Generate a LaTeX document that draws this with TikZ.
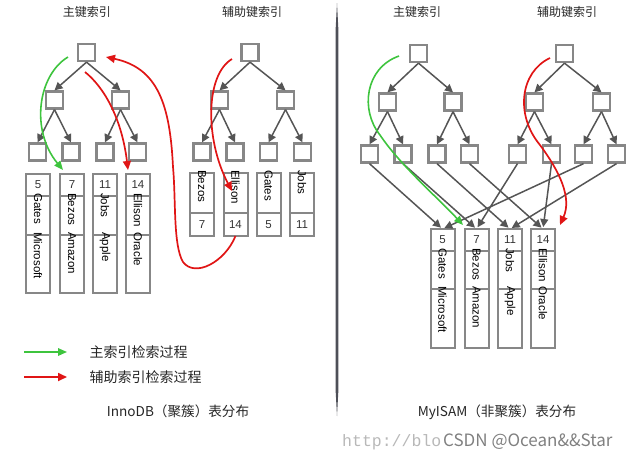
\documentclass[tikz,border=0pt]{standalone}
\usepackage{fontspec}
\setmainfont{Liberation Sans}
\newfontfamily\cjk{Noto Sans CJK SC}
\newfontfamily\wmono{Liberation Mono}
\usetikzlibrary{arrows.meta}
\definecolor{boxgray}{HTML}{878787}
\definecolor{argray}{HTML}{555555}
\definecolor{lgreen}{HTML}{3EC43E}
\definecolor{lred}{HTML}{E01515}
\definecolor{divcol}{HTML}{4E5058}
\newcommand{\cellfnt}{\fontsize{11.5}{12}\selectfont}
\begin{document}
\begin{tikzpicture}[x=1pt,y=-1pt,
  tbox/.style={draw=boxgray, line width=2.5pt, fill=white, minimum size=16.8pt, inner sep=0pt},
  tarrow/.style={draw=argray, line width=1.5pt, -{Triangle[length=8pt,width=8pt]}},
  cell/.style={draw=boxgray, line width=2pt, minimum width=24pt, inner sep=0pt, outer sep=0pt, anchor=north},
  ctext/.style={font=\cellfnt, rotate=-90, anchor=west, inner sep=0pt},
  ntext/.style={font=\cellfnt, inner sep=0pt, text=black!80},
  title/.style={font=\cjk\fontsize{12}{14}\selectfont, text=black!85},
  legtext/.style={font=\cjk\fontsize{14}{16}\selectfont, anchor=west, text=black!85},
  capt/.style={font=\cjk\fontsize{13.6}{15}\selectfont, text=black!85},
  garrow/.style={draw=lgreen, line width=1.6pt, -{Triangle[length=9pt,width=7.5pt]}},
  rarrow/.style={draw=lred, line width=1.7pt, -{Triangle[length=9pt,width=8pt]}},
]
\useasboundingbox (0,0) rectangle (633,461);

% titles
\node[title] (t1) at (87,12) {主键索引};
\node[title] (t2) at (252,12) {辅助键索引};
\node[title] (t3) at (417,12) {主键索引};
\node[title] (t4) at (567,12) {辅助键索引};

% divider
\fill[divcol] (337,3) -- (338.4,30) -- (338.4,390) -- (337,416) -- (335.6,390) -- (335.6,30) -- cycle;

% ---------- left: InnoDB ----------
% primary tree
\node[tbox] (r1) at (86.5,52.5) {};
\node[tbox] (a1) at (54.5,100) {};
\node[tbox] (a2) at (120.5,100) {};
\node[tbox] (l1) at (37.5,152) {};
\node[tbox] (l2) at (71,152) {};
\node[tbox] (l3) at (105,152) {};
\node[tbox] (l4) at (137.5,152) {};
% secondary tree
\node[tbox] (r2) at (250,52.5) {};
\node[tbox] (b1) at (219.5,100) {};
\node[tbox] (b2) at (285.5,100) {};
\node[tbox] (k1) at (202,152) {};
\node[tbox] (k2) at (235,152) {};
\node[tbox] (k3) at (268.5,152) {};
\node[tbox] (k4) at (302.5,152) {};

\foreach \p/\c in {r1/a1,r1/a2,a1/l1,a1/l2,a2/l3,a2/l4,r2/b1,r2/b2,b1/k1,b1/k2,b2/k3,b2/k4}
  \draw[tarrow] (\p.south) -- (\c.north);

% primary table (clustered rows)
\foreach \x/\n/\a/\b/\nm in {38/5/Gates/Microsoft/p1, 72/7/Bezos/Amazon/p2, 105/11/Jobs/Apple/p3, 138/14/Ellison/Oracle/p4}{
  \node[cell, minimum height=22pt] (\nm k) at (\x,174) {};
  \node[cell, minimum height=39pt] (\nm a) at (\x,196) {};
  \node[cell, minimum height=58pt] (\nm b) at (\x,235) {};
  \node[ntext] at (\nm k.center) {\n};
  \node[ctext] at ([yshift=3pt]\nm a.north) {\a};
  \node[ctext] at ([yshift=3pt]\nm b.north) {\b};
}
% secondary table
\foreach \x/\n/\a/\nm in {202/7/Bezos/s1, 235.5/14/Ellison/s2, 268.5/5/Gates/s3, 302/11/Jobs/s4}{
  \node[cell, minimum height=40pt] (\nm a) at (\x,173) {};
  \node[cell, minimum height=23pt] (\nm k) at (\x,213) {};
  \node[ntext] at (\nm k.center) {\n};
  \node[ctext] at ([yshift=3pt]\nm a.north) {\a};
}

% left search paths
\coordinate (g0) at (68,57);
\coordinate (g1) at (63,170);
\draw[garrow] (g0) .. controls (38,75) and (30,130) .. (g1);
\coordinate (ra0) at (85,72);
\coordinate (ra1) at (128,170);
\draw[rarrow] (ra0) .. controls (105,88) and (122,120) .. (ra1);
\coordinate (rc0) at (232,59);
\coordinate (rc1) at (232,191);
\draw[rarrow] (rc0) .. controls (205,75) and (205,140) .. (rc1);
\coordinate (rb1) at (106,57);
\draw[rarrow] (s2k.south) .. controls (225,262) and (195,278) .. (183,262)
   .. controls (173,245) and (176,200) .. (173,167)
   .. controls (170,105) and (158,68) .. (rb1);

% legend
\coordinate (lg0) at (24,352);
\coordinate (lg1) at (67,352);
\coordinate (lr0) at (24,377);
\coordinate (lr1) at (67,377);
\draw[garrow] (lg0) -- (lg1);
\draw[rarrow] (lr0) -- (lr1);
\node[legtext] (leg1) at (86,352) {主索引检索过程};
\node[legtext] (leg2) at (86,377) {辅助索引检索过程};

\node[capt] (cap1) at (178,411) {InnoDB（聚簇）表分布};

% ---------- right: MyISAM ----------
\node[tbox] (R1) at (418.5,53.5) {};
\node[tbox] (A1) at (387.5,102) {};
\node[tbox] (A2) at (453,102) {};
\node[tbox] (L1) at (369.5,154) {};
\node[tbox] (L2) at (403,154) {};
\node[tbox] (L3) at (437,154) {};
\node[tbox] (L4) at (469.5,154) {};
\node[tbox] (R2) at (564.5,53.5) {};
\node[tbox] (B1) at (534.5,102) {};
\node[tbox] (B2) at (601.5,102) {};
\node[tbox] (K1) at (517.5,154) {};
\node[tbox] (K2) at (551.5,154) {};
\node[tbox] (K3) at (583.5,154) {};
\node[tbox] (K4) at (616.5,154) {};
\foreach \p/\c in {R1/A1,R1/A2,A1/L1,A1/L2,A2/L3,A2/L4,R2/B1,R2/B2,B1/K1,B1/K2,B2/K3,B2/K4}
  \draw[tarrow] (\p.south) -- (\c.north);

\foreach \x/\n/\a/\b/\nm in {442.5/5/Gates/Microsoft/q1, 476.5/7/Bezos/Amazon/q2, 510/11/Jobs/Apple/q3, 543/14/Ellison/Oracle/q4}{
  \node[cell, minimum height=22pt] (\nm k) at (\x,229) {};
  \node[cell, minimum height=38pt] (\nm a) at (\x,251) {};
  \node[cell, minimum height=59pt] (\nm b) at (\x,289) {};
  \node[ntext] at (\nm k.center) {\n};
  \node[ctext] at ([yshift=3pt]\nm a.north) {\a};
  \node[ctext] at ([yshift=3pt]\nm b.north) {\b};
}

\foreach \p/\c in {L1/q1k,L2/q2k,L3/q3k,L4/q4k,K1/q2k,K2/q4k,K3/q1k,K4/q3k}
  \draw[tarrow, shorten >=2pt] (\p.south) -- (\c.north);

\coordinate (G0) at (399,56);
\coordinate (G1) at (463,225);
\draw[garrow] (G0) .. controls (365,68) and (360,110) .. (380,135)
   .. controls (400,165) and (440,200) .. (G1);
\coordinate (Q0) at (550,58);
\coordinate (Q1) at (560,225);
\draw[rarrow] (Q0) .. controls (520,72) and (515,115) .. (540,145)
   .. controls (560,172) and (572,198) .. (Q1);

\node[capt] (cap2) at (497,412) {MyISAM（非聚簇）表分布};

% watermark
\node[anchor=west, font=\wmono\fontsize{16.5}{17}\selectfont, text=black!28, inner sep=0pt] (wm1) at (342,442) {http://blo};
\node[anchor=west, font=\cjk\fontsize{17}{18}\selectfont, text=black!50, inner sep=0pt] (wm2) at (443,442) {CSDN @Ocean\&\&Star};
\end{tikzpicture}
\end{document}
